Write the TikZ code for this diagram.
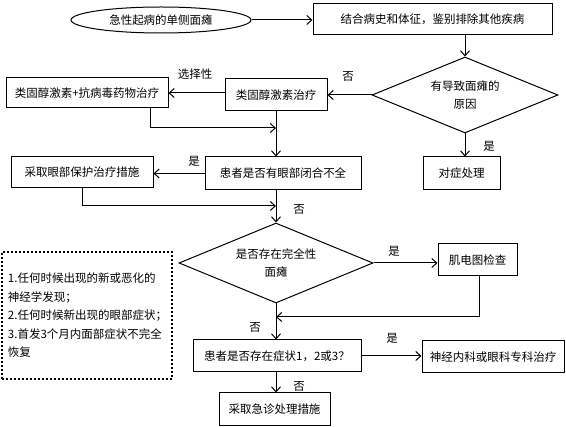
\documentclass[tikz,border=0pt]{standalone}
\usepackage{fontspec}
\newfontfamily\cjk{Noto Sans CJK SC}
\usetikzlibrary{shapes.geometric,arrows.meta}

\begin{document}
\begin{tikzpicture}[x=1pt,y=-1pt,line width=1pt,
  >={Straight Barb[length=5pt,width=9pt]},
  every node/.style={font=\cjk\fontsize{11.5}{18}\selectfont,inner sep=0pt},
  box/.style={draw,rectangle,minimum height=32},
  choice/.style={draw,diamond,aspect=2.4,align=center},
  note/.style={draw,rectangle,line width=2pt,dash pattern=on 2pt off 2pt,
    align=left,inner xsep=6pt,font=\cjk\fontsize{11.5}{18.5}\selectfont}]
\useasboundingbox (0,0) rectangle (566,427);
\node[draw,ellipse,minimum width=180,minimum height=26] (start) at (161,20) {急性起病的单侧面瘫};
\node[box,minimum width=239,minimum height=31] (hist) at (432.5,19.5) {结合病史和体征，鉴别排除其他疾病};
\node[choice,minimum width=186,minimum height=76] (cause) at (465,95) {有导致面瘫的\\原因};
\node[box,minimum width=102] (ster) at (276,95) {类固醇激素治疗};
\node[box,minimum width=162,minimum height=30] (combo) at (87,93) {类固醇激素+抗病毒药物治疗};
\node[box,minimum width=77,minimum height=33] (treat) at (461.5,173.5) {对症处理};
\node[box,minimum width=156,minimum height=33] (eye) at (283,173.5) {患者是否有眼部闭合不全};
\node[box,minimum width=142,minimum height=31] (protect) at (82,172.5) {采取眼部保护治疗措施};
\node[choice,minimum width=194,minimum height=80] (full) at (276,263) {是否存在完全性\\面瘫};
\node[box,minimum width=79] (emg) at (477.5,260) {肌电图检查};
\node[box,minimum width=168] (sympt) at (277,356) {患者是否存在症状1，2或3？};
\node[box,minimum width=142] (neuro) at (493,357) {神经内科或眼科专科治疗};
\node[box,minimum width=111,minimum height=33] (emerg) at (274.5,409.5) {采取急诊处理措施};
\node[note,text width=158,minimum height=127] (list) at (87,315.5)
  {1.任何时候出现的新或恶化的\\神经学发现；\\2.任何时候新出现的眼部症状；\\3.首发3个月内面部症状不完全\\恢复};
\coordinate (j1) at (276,128);
\coordinate (j2) at (276,206);
\coordinate (j3) at (276,317);
\draw[->] (start.east) -- (start.east -| hist.west);
\draw[->] (cause.north |- hist.south) -- (cause.north);
\draw[->] (cause.west) -- (ster.east);
\draw[->] (ster.west |- combo.east) -- (combo.east);
\draw[->] ([xshift=63pt]combo.south) |- (j1);
\draw[->] (ster.south) -- (ster.south |- eye.north);
\draw[->] (cause.south) -- (cause.south |- treat.north);
\draw[->] (eye.west) -- (eye.west -| protect.east);
\draw[->] (protect.south) |- (j2);
\draw[->] (full.north |- eye.south) -- (full.north);
\draw[->] (full.east) -- (full.east -| emg.west);
\draw[->] ([xshift=1.5pt]emg.south) |- (j3);
\draw[->] (full.south) -- (full.south |- sympt.north);
\draw[->] (sympt.east) -- (sympt.east -| neuro.west);
\draw[->] (full.south |- sympt.south) -- (full.south |- emerg.north);
\node (no1) at (348,76) {否};
\node (sel) at (195,74) {选择性};
\node (yes1) at (489,146) {是};
\node (yes2) at (194,161) {是};
\node (no2) at (299,209) {否};
\node (yes3) at (394,251) {是};
\node (no3) at (255,327) {否};
\node (yes4) at (392,338) {是};
\node (no4) at (299,386) {否};
\end{tikzpicture}
\end{document}
